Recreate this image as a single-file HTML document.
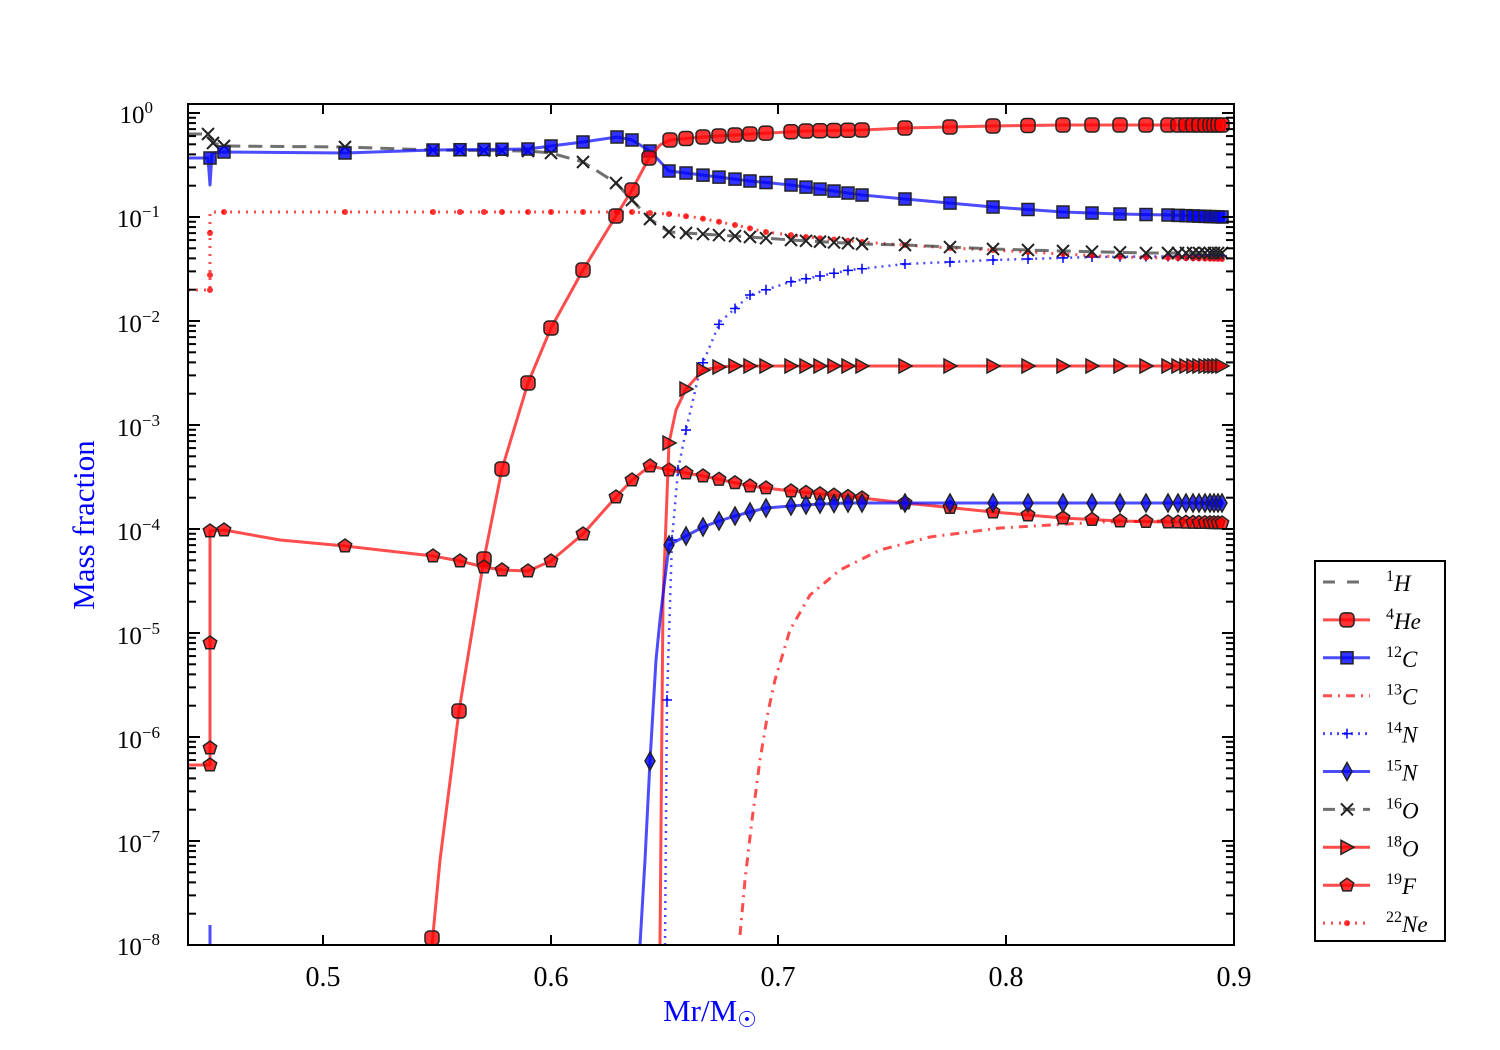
<!DOCTYPE html><html><head><meta charset="utf-8"><style>body{margin:0;background:#fff}svg{display:block}text{font-family:"Liberation Serif",serif}</style></head><body>
<svg id="s" width="1500" height="1050" xmlns="http://www.w3.org/2000/svg">
<rect width="1500" height="1050" fill="#fff"/>
<g id="data"></g>
<rect x="188" y="104" width="1046" height="841" fill="none" stroke="#000" stroke-width="2"/>
<g id="ticks" stroke="#000" stroke-width="2"></g>
<g font-size="28" text-anchor="middle">
<text x="323" y="986">0.5</text><text x="551" y="986">0.6</text><text x="778" y="986">0.7</text><text x="1006" y="986">0.8</text><text x="1234" y="986">0.9</text>
</g>
<g font-size="25" text-anchor="end">
<text x="153" y="123">10<tspan dy="-10" font-size="17">0</tspan></text>
<text x="160" y="227">10<tspan dy="-10" font-size="17">−1</tspan></text>
<text x="160" y="332">10<tspan dy="-10" font-size="17">−2</tspan></text>
<text x="160" y="436">10<tspan dy="-10" font-size="17">−3</tspan></text>
<text x="160" y="540">10<tspan dy="-10" font-size="17">−4</tspan></text>
<text x="160" y="644">10<tspan dy="-10" font-size="17">−5</tspan></text>
<text x="160" y="748">10<tspan dy="-10" font-size="17">−6</tspan></text>
<text x="160" y="852">10<tspan dy="-10" font-size="17">−7</tspan></text>
<text x="160" y="955">10<tspan dy="-10" font-size="17">−8</tspan></text>
</g>
<text x="710" y="1021" font-size="31" fill="#00f" text-anchor="middle">Mr/M<tspan font-size="22" dy="6">☉</tspan></text>
<text transform="translate(94,525) rotate(-90)" font-size="31" fill="#00f" text-anchor="middle">Mass fraction</text>
<rect x="1315" y="561" width="130" height="380" fill="#fff" stroke="#000" stroke-width="2"/>
<g id="leg"></g>
</svg>
<script>
const NS="http://www.w3.org/2000/svg";
function el(p,t,a){const e=document.createElementNS(NS,t);for(const k in a)e.setAttribute(k,a[k]);p.appendChild(e);return e;}
const tk=document.getElementById('ticks');
[323,551,778,1006].forEach(x=>{el(tk,'line',{x1:x,y1:945,x2:x,y2:935});el(tk,'line',{x1:x,y1:104,x2:x,y2:114});});
for(let d=0;d>=-8;d--){const y=113-104*d;el(tk,'line',{x1:188,y1:y,x2:200,y2:y});el(tk,'line',{x1:1234,y1:y,x2:1222,y2:y});
 if(d>-8)for(let m=2;m<10;m++){const yy=y+104-Math.log10(m)*104;el(tk,'line',{x1:188,y1:yy,x2:196,y2:yy});el(tk,'line',{x1:1234,y1:yy,x2:1226,y2:yy});}}
const g=document.getElementById('data');
const tail=[1178,1186,1193,1199,1205,1210,1214,1218,1222];
const R='#ff0000',B='#0000ff',K='#333';
function interp(pts,x){for(let i=0;i<pts.length-1;i++){if(x>=pts[i][0]&&x<=pts[i+1][0]){const t=(x-pts[i][0])/((pts[i+1][0]-pts[i][0])||1);return pts[i][1]+t*(pts[i+1][1]-pts[i][1]);}}return pts[pts.length-1][1];}
function marker(p,type,x,y,c,s){s=s||7;const st={fill:c,'fill-opacity':0.8,stroke:'#222','stroke-width':1.5};
 if(type=='o')el(p,'rect',Object.assign({x:x-s,y:y-s,width:2*s,height:2*s,rx:s*0.6},st));
 else if(type=='s')el(p,'rect',Object.assign({x:x-s+1,y:y-s+1,width:2*s-2,height:2*s-2},st));
 else if(type=='d')el(p,'polygon',Object.assign({points:`${x},${y-s-2} ${x+s-2},${y} ${x},${y+s+2} ${x-s+2},${y}`},st));
 else if(type=='>')el(p,'polygon',Object.assign({points:`${x-s+1},${y-s} ${x+s},${y} ${x-s+1},${y+s}`},st));
 else if(type=='p'){let pts=[];for(let i=0;i<5;i++){const a=-Math.PI/2+i*2*Math.PI/5;pts.push((x+s*Math.cos(a)).toFixed(1)+','+(y+s*Math.sin(a)).toFixed(1));}el(p,'polygon',Object.assign({points:pts.join(' ')},st));}
 else if(type=='x'){el(p,'path',{d:`M${x-6},${y-6}L${x+6},${y+6}M${x-6},${y+6}L${x+6},${y-6}`,stroke:'#222','stroke-width':2});}
 else if(type=='+'){el(p,'path',{d:`M${x-5},${y}L${x+5},${y}M${x},${y-5}L${x},${y+5}`,stroke:c,'stroke-width':1.5});}
 else if(type=='.'){el(p,'circle',{cx:x,cy:y,r:3,fill:c,'fill-opacity':0.8});}}
function series(pts,c,dash,mk,mx,w){const d='M'+pts.map(p=>p[0]+','+p[1]).join('L');
 el(g,'path',{d:d,fill:'none',stroke:c,'stroke-width':w||3,'stroke-opacity':0.7,'stroke-dasharray':dash||'none','stroke-linejoin':'round'});
 if(mk)mx.forEach(x=>{const y=Array.isArray(x)?x[1]:interp(pts,x);const xx=Array.isArray(x)?x[0]:x;marker(g,mk,xx,y,c);});}
const mid=[686,703,719,735,750,766,791,806,820,834,848,862,905,950,993,1028,1063,1092,1120,1146,1168].concat(tail);
series([[740,935],[745,880],[752,820],[760,760],[768,712],[775,680],[790,630],[810,595],[840,570],[880,550],[930,537],[1000,528],[1100,522],[1222,520]],R,'9,6,2,6',null,null,3);
series([[665,945],[667,700],[672,540],[678,470],[686,430],[700,370],[720,322],[750,295],[790,282],[850,270],[905,264],[993,260],[1092,257],[1222,256]],B,'2,5','+',[[667,700],[672,540],[678,470],[686,430]].concat(mid.filter(x=>x>=703)),2.5);
series([[188,290],[210,290],[210,212],[224,212],[632,212],[650,213],[669,214],[700,218],[735,225],[766,232],[806,237],[862,242],[905,245],[950,248],[993,250],[1063,254],[1120,257],[1222,259]],R,'2,6','.',[[210,290],[210,275],[210,233],[224,212],345,433,460,484,502,528,551,583,617,632,650,669].concat(mid),3);
series([[188,134],[208,134],[213,143],[224,146],[345,147],[433,150],[528,151],[551,153],[583,162],[616,183],[632,200],[650,219],[669,232],[686,233],[750,237],[791,240],[862,244],[905,245],[993,249],[1063,251],[1146,253],[1222,253]],K,'14,8','x',[[208,134],213,224,345,433,460,484,502,528,551,583,616,632,650,669].concat(mid));
series([[188,158],[208,158],[210,185],[212,153],[224,152],[345,153],[433,150],[528,149],[551,146],[583,142],[617,137],[632,140],[650,151],[669,171],[686,173],[750,181],[791,185],[862,195],[905,199],[993,207],[1063,212],[1120,214],[1168,215],[1222,217]],B,null,'s',[[210,158],224,345,433,460,484,502,528,551,583,617,632,650,669].concat(mid));
el(g,'path',{d:'M210,925L210,945',stroke:B,'stroke-width':3,'stroke-opacity':0.7});
series([[432,945],[440,860],[459,711],[484,559],[502,469],[528,383],[551,328],[583,270],[616,216],[632,190],[649,158],[660,145],[670,140],[703,137],[750,134],[806,131],[862,130],[905,128],[993,126],[1063,125],[1222,125]],R,null,'o',[[432,938],459,484,502,528,551,583,616,632,649,670].concat(mid));
series([[188,765],[210,765],[210,531],[224,530],[280,540],[345,546],[433,556],[460,561],[484,567],[502,570],[528,571],[551,561],[583,534],[616,497],[632,480],[650,466],[669,470],[703,476],[750,486],[791,491],[862,498],[905,503],[993,512],[1063,518],[1120,521],[1168,522],[1222,523]],R,null,'p',[[210,765],[210,748],[210,643],[210,531],224,345,433,460,484,502,528,551,583,616,632,650,669].concat(mid));
series([[660,945],[663,600],[669,443],[676,410],[686,389],[703,370],[719,367],[735,366],[1222,366]],R,null,'>',[669,686,703,719,735,750,766,791,806,820,834,848,862,905,950,993,1028,1063,1092,1120,1146,1168].concat(tail));
series([[640,945],[645,860],[650,761],[656,660],[660,620],[669,545],[686,536],[703,527],[719,521],[735,516],[750,512],[766,508],[791,506],[820,504],[848,503],[905,503],[1222,503]],B,null,'d',[650,669,686,703,719,735,750,766,791,806,820,834,848,862,905,950,993,1028,1063,1092,1120,1146,1168].concat(tail));
const L=document.getElementById('leg');
const ents=[['1','H',K,'12,12',null],['4','He',R,null,'o'],['12','C',B,null,'s'],['13','C',R,'9,6,2,6',null],['14','N',B,'2,5','+'],['15','N',B,null,'d'],['16','O',K,'12,8','x'],['18','O',R,null,'>'],['19','F',R,null,'p'],['22','Ne',R,'2,6','.']];
ents.forEach((e,i)=>{const y=582+i*37.9;
 el(L,'path',{d:`M1323,${y}L1370,${y}`,stroke:e[2],'stroke-width':3,'stroke-opacity':0.7,'stroke-dasharray':e[3]||'none'});
 if(e[4])marker(L,e[4],1347,y,e[2]);
 const t=el(L,'text',{x:1386,y:y+9,'font-size':23});
 const s1=el(t,'tspan',{dy:-10,'font-size':16});s1.textContent=e[0];
 const s2=el(t,'tspan',{dy:10,'font-style':'italic'});s2.textContent=e[1];});
</script>
</body></html>
